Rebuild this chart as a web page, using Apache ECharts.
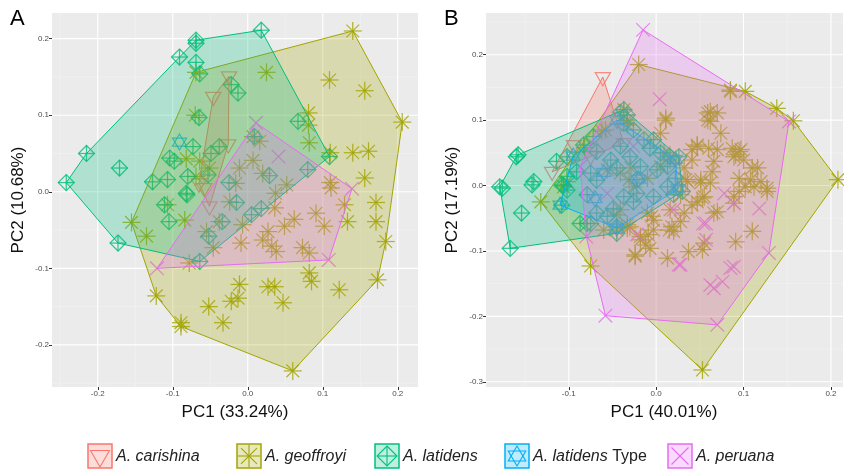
<!DOCTYPE html>
<html><head><meta charset="utf-8">
<script src="https://cdn.jsdelivr.net/npm/echarts@6/dist/echarts.min.js"></script>
<style>html,body{margin:0;padding:0;background:#fff}#c{width:844px;height:470px}</style>
</head><body><div id="c"></div>
<script>
// ---------- DATA ----------
const groupNames = ['A. carishina', 'A. geoffroyi', 'A. latidens', 'A. latidens Type', 'A. peruana'];

// Panel A (PC1 33.24% / PC2 10.68%)
const A_carishina = [[-0.025,0.151],[-0.046,0.124],[-0.026,0.062],[-0.065,0.011],[-0.051,-0.019],[-0.058,0.005]];
const A_geoffroyi = [[0.140,0.210],[0.206,0.091],[0.184,-0.065],[0.173,-0.115],[0.060,-0.234],[-0.089,-0.176],[-0.089,-0.171],[-0.122,-0.136],[-0.155,-0.040],[-0.069,0.156],
 [0.025,0.156],[0.109,0.146],[0.156,0.132],[-0.070,0.100],[0.081,0.103],[0.081,0.087],[0.082,0.064],[0.140,0.051],[0.161,0.053],[0.110,0.051],[0.156,0.018],[0.007,0.072],[0.016,0.066],[0.007,0.041],[-0.011,0.031],[0.020,0.024],[-0.016,0.011],[0.052,0.009],[0.037,-0.002],[0.110,0.012],[0.111,0.005],[-0.082,0.043],[-0.064,0.040],[-0.051,0.031],[-0.069,0.020],
 [0.171,-0.014],[0.171,-0.039],[0.129,-0.017],[0.133,-0.039],[0.091,-0.028],[0.102,-0.045],[0.062,-0.036],[0.049,-0.045],[0.027,-0.052],[0.036,-0.021],[0.020,-0.063],[0.032,-0.071],[0.038,-0.078],[0.073,-0.073],[0.082,-0.080],[-0.009,-0.067],[-0.007,-0.043],[-0.024,-0.013],[-0.038,-0.039],[-0.055,-0.052],[-0.046,-0.073],[-0.078,-0.093],[-0.084,-0.037],[-0.107,-0.017],[-0.135,-0.058],[0.082,-0.106],[0.085,-0.117],[0.122,-0.128],[-0.011,-0.121],[0.027,-0.124],[0.036,-0.124],[-0.022,-0.143],[-0.013,-0.139],[-0.052,-0.150],[0.047,-0.145],[-0.033,-0.171]];
const A_latidens = [[-0.242,0.012],[-0.215,0.050],[-0.069,0.198],[0.018,0.211],[0.109,0.046],[-0.064,-0.091],[-0.173,-0.067],
 [-0.091,0.176],[-0.069,0.169],[-0.064,0.154],[-0.022,0.140],[-0.013,0.129],[-0.065,0.097],[0.067,0.092],[-0.073,0.059],[-0.104,0.044],[-0.098,0.040],[-0.049,0.050],[-0.038,0.059],[-0.080,0.020],[-0.053,0.022],[-0.107,0.016],[-0.127,0.013],[-0.171,0.031],[-0.082,-0.002],[0.009,0.072],[0.029,0.021],[-0.025,0.012],[0.080,0.029],[-0.111,-0.017],[-0.105,-0.039],[-0.015,-0.014],[-0.034,-0.039],[-0.052,-0.058],[0.005,-0.030],[0.018,-0.022],[-0.081,-0.004],[-0.069,0.194]];
const A_latidensType = [[-0.091,0.065]];
const A_peruana = [[0.011,0.090],[0.139,0.004],[0.108,-0.089],[-0.121,-0.100],[0.041,0.046]];

// Panel B (PC1 40.01% / PC2 17.19%)
const B_carishina = [[-0.061,0.166],[-0.037,0.065],[-0.094,0.062],[-0.119,0.021],[-0.075,0.045]];
const B_geoffroyi = [[-0.020,0.185],[0.102,0.144],[0.138,0.118],[0.157,0.099],[0.208,0.009],[0.053,-0.282],[-0.075,-0.123],[-0.132,-0.025],
 [0.085,0.144],[0.011,0.100],[0.005,0.080],[0.059,0.111],[0.070,0.111],[0.062,0.098],[0.074,0.080],[0.047,0.062],[0.041,0.055],[0.060,0.057],[0.070,0.055],[0.087,0.057],[0.095,0.052],[0.091,0.047],[0.066,0.037],[0.064,0.021],[0.041,0.039],[0.100,0.039],[0.110,0.027],[0.095,0.011],[0.108,0.009],[0.051,0.009],[0.062,0.004],[0.009,0.050],[0.016,0.039],[-0.029,0.027],[-0.031,0.009],[-0.010,0.011],[0.034,0.009],[0.032,0.027],[-0.033,0.100],
 [0.051,0.004],[0.055,-0.017],[0.070,-0.040],[0.032,-0.042],[0.041,-0.030],[0.016,-0.037],[-0.005,-0.047],[0.028,-0.055],[0.018,-0.063],[0.015,-0.068],[-0.003,-0.068],[-0.009,-0.075],[-0.018,-0.083],[-0.012,-0.091],[-0.007,-0.096],[-0.024,-0.106],[0.013,-0.111],[0.037,-0.101],[0.055,-0.088],[0.053,-0.098],[0.089,-0.017],[0.102,-0.002],[0.091,-0.086],[0.110,-0.070],[-0.033,-0.065],[-0.030,-0.063],[-0.026,-0.002],
 [-0.033,-0.060],[-0.024,-0.108],[0.066,-0.042],[0.020,-0.070],[-0.045,-0.045],[-0.041,-0.037],[0.047,-0.025],[0.053,-0.019],[0.089,-0.027],[0.028,-0.014],[-0.010,-0.042],[-0.003,-0.053],
 [0.011,0.103],[-0.033,0.093],[-0.058,0.085],[-0.037,0.116],[0.062,0.113],[0.059,0.100],[0.085,0.146],[0.047,0.060],[0.097,0.055],[0.089,0.044],[0.116,0.027],[0.127,-0.004],[0.120,0.006],[-0.041,0.019],[-0.056,0.024],[-0.102,0.006],[-0.106,-0.002],[-0.062,0.083],[-0.082,0.058],[0.036,0.006],[0.005,0.029],[0.112,-0.002],[0.095,-0.009],[0.127,-0.009],[-0.018,-0.078],[-0.045,-0.068],[-0.060,-0.068]];
const B_latidens = [[-0.037,0.116],[0.026,0.044],[0.030,-0.009],[-0.045,-0.073],[-0.167,-0.096],[-0.179,-0.002],[-0.158,0.047],
 [-0.140,0.006],[-0.114,0.037],[-0.102,0.014],[-0.106,0.000],[-0.083,0.062],[-0.072,0.075],[-0.068,0.052],[-0.052,0.039],[-0.075,0.019],[-0.091,0.021],[-0.068,0.008],[-0.045,0.027],[-0.041,0.112],[-0.142,0.001],[-0.108,0.001],[-0.102,-0.007],[-0.079,-0.014],[-0.068,-0.042],[-0.075,-0.058],[-0.056,-0.047],[-0.045,-0.063],[-0.087,-0.058],[-0.033,0.108],[-0.037,0.095],[-0.026,0.085],[-0.014,0.070],[-0.007,0.057],[0.005,0.050],[0.016,0.044],[0.013,0.029],[0.001,0.024],[-0.018,0.029],[-0.022,0.009],[0.022,0.011],[-0.030,0.044],[-0.037,-0.017],[-0.022,-0.012],[0.013,-0.002],[-0.041,0.060],[-0.102,0.044],[-0.003,0.070],[-0.154,-0.042],[-0.108,-0.030],[-0.079,-0.058],[-0.049,-0.035],[-0.026,-0.025],[-0.003,-0.017],[0.020,-0.014],[-0.176,-0.004],[-0.160,0.044]];
const B_latidensType = [[-0.110,-0.030],[-0.095,0.045],[-0.045,0.100],[0.022,0.040],[0.025,-0.005],[-0.045,-0.065],[-0.060,0.020],[-0.020,0.010],[-0.070,-0.020]];
const B_peruana = [[-0.015,0.238],[0.152,0.098],[0.129,-0.103],[0.070,-0.213],[-0.058,-0.199],[-0.080,-0.078],[-0.087,0.029],
 [0.004,0.132],[0.078,-0.012],[0.089,-0.027],[0.057,-0.058],[0.057,-0.083],[0.026,-0.121],[0.085,-0.126],[-0.022,-0.075],[0.020,-0.037],[0.089,-0.124],[0.062,-0.152],[0.076,-0.147],[0.066,-0.157],[0.118,-0.035],[0.054,-0.058],[0.028,-0.121],[-0.026,0.060],[-0.056,-0.012]];

// Axis ticks
const A_xTicks = [-0.2,-0.1,0,0.1,0.2];
const A_xMinor = [-0.25,-0.15,-0.05,0.05,0.15];
const A_yTicks = [-0.2,-0.1,0,0.1,0.2];
const A_yMinor = [-0.25,-0.15,-0.05,0.05,0.15];
const B_xTicks = [-0.1,0,0.1,0.2];
const B_xMinor = [-0.15,-0.05,0.05,0.15];
const B_yTicks = [-0.3,-0.2,-0.1,0,0.1,0.2];
const B_yMinor = [-0.25,-0.15,-0.05,0.05,0.15,0.25];

// ---------- STYLE ----------
const colors = ['#F8766D','#A3A500','#00BF7D','#00B0F6','#E76BF3'];
const shapes = ['triDown','asterisk','diamondPlus','hexagram','cross'];
const FONT = "'Liberation Sans', Arial, sans-serif";

function rgba(hex, a){
  const n = parseInt(hex.slice(1),16);
  return 'rgba(' + ((n>>16)&255) + ',' + ((n>>8)&255) + ',' + (n&255) + ',' + a + ')';
}
function glyph(shape, cx, cy, stroke, k, lw){
  k = k || 1; lw = lw || 1.1;
  const st = {stroke: stroke, lineWidth: lw, fill: 'none'};
  const L = (x1,y1,x2,y2) => ({type:'line', shape:{x1:cx+x1*k,y1:cy+y1*k,x2:cx+x2*k,y2:cy+y2*k}, style:st});
  const P = (pts) => ({type:'polygon', shape:{points: pts.map(p=>[cx+p[0]*k, cy+p[1]*k])}, style:st});
  if (shape==='triDown') return [P([[-7.6,-4.4],[7.6,-4.4],[0,8.8]])];
  if (shape==='asterisk'){ const r=9, d=r*0.7071; return [L(-r,0,r,0),L(0,-r,0,r),L(-d,-d,d,d),L(-d,d,d,-d)]; }
  if (shape==='diamondPlus'){ const r=8; return [P([[0,-r],[r,0],[0,r],[-r,0]]),L(-r,0,r,0),L(0,-r,0,r)]; }
  if (shape==='hexagram') return [P([[0,-8],[7,4],[-7,4]]),P([[0,8],[7,-4],[-7,-4]])];
  if (shape==='cross'){ const h=6.8; return [L(-h,-h,h,h),L(-h,h,h,-h)]; }
  return [];
}
function hull(pts){
  const p = pts.slice().sort((a,b)=>a[0]-b[0]||a[1]-b[1]);
  if (p.length<3) return p;
  const cr=(o,a,b)=>(a[0]-o[0])*(b[1]-o[1])-(a[1]-o[1])*(b[0]-o[0]);
  const lo=[]; for(const q of p){ while(lo.length>=2&&cr(lo[lo.length-2],lo[lo.length-1],q)<=0) lo.pop(); lo.push(q); }
  const up=[]; for(let i=p.length-1;i>=0;i--){ const q=p[i]; while(up.length>=2&&cr(up[up.length-2],up[up.length-1],q)<=0) up.pop(); up.push(q); }
  lo.pop(); up.pop(); return lo.concat(up);
}

const panels = [
  {groups:[A_carishina,A_geoffroyi,A_latidens,A_latidensType,A_peruana], xT:A_xTicks, xM:A_xMinor, yT:A_yTicks, yM:A_yMinor,
   grid:{left:52, top:13, width:366, height:374}, x:[-0.261,0.227], y:[-0.255,0.2335]},
  {groups:[B_carishina,B_geoffroyi,B_latidens,B_latidensType,B_peruana], xT:B_xTicks, xM:B_xMinor, yT:B_yTicks, yM:B_yMinor,
   grid:{left:486, top:13, width:357, height:374}, x:[-0.1947,0.2138], y:[-0.308,0.2638]}
];

const fmt = v => (Math.abs(v)<1e-9 ? '0.0' : v.toFixed(1));
const grids=[], xAxes=[], yAxes=[], series=[];
panels.forEach((P, pi) => {
  grids.push(Object.assign({show:true, backgroundColor:'#EBEBEB', borderWidth:0, containLabel:false}, P.grid));
  const axisCommon = (ticks) => ({
    type:'value', gridIndex:pi, axisLine:{show:false, onZero:false}, splitLine:{show:false},
    axisTick:{show:true, length:3, lineStyle:{color:'#333', width:1}, customValues:ticks},
    axisLabel:{customValues:ticks, formatter:fmt, fontSize:8, color:'#4D4D4D', fontFamily:FONT, margin:3}
  });
  xAxes.push(Object.assign(axisCommon(P.xT), {min:P.x[0], max:P.x[1], position:'bottom'}));
  yAxes.push(Object.assign(axisCommon(P.yT), {min:P.y[0], max:P.y[1], position:'left'}));
  // grid lines
  series.push({type:'custom', xAxisIndex:pi, yAxisIndex:pi, z:1, silent:true, data:[[0,0]],
    renderItem:(params, api) => {
      const cs = params.coordSys, ch=[];
      const vx = (vals, major) => vals.forEach(v => { const x=api.coord([v,0])[0];
        ch.push({type:'line', shape:{x1:x,y1:cs.y,x2:x,y2:cs.y+cs.height}, style:{stroke: major?'#FFFFFF':'#F4F4F4', lineWidth: major?1.1:0.6}}); });
      const vy = (vals, major) => vals.forEach(v => { const y=api.coord([0,v])[1];
        ch.push({type:'line', shape:{x1:cs.x,y1:y,x2:cs.x+cs.width,y2:y}, style:{stroke: major?'#FFFFFF':'#F4F4F4', lineWidth: major?1.1:0.6}}); });
      vx(P.xM,false); vy(P.yM,false); vx(P.xT,true); vy(P.yT,true);
      return {type:'group', children:ch};
    }});
  // points
  P.groups.forEach((pts, gi) => {
    series.push({type:'custom', name:groupNames[gi], xAxisIndex:pi, yAxisIndex:pi, z:2, silent:true, data:pts,
      renderItem:(params, api) => {
        const c = api.coord([api.value(0), api.value(1)]);
        return {type:'group', children: glyph(shapes[gi], c[0], c[1], rgba(colors[gi],0.8), 1, 1.25)};
      }});
  });
  // hulls
  P.groups.forEach((pts, gi) => {
    const h = hull(pts);
    if (h.length < 3) return;
    series.push({type:'custom', xAxisIndex:pi, yAxisIndex:pi, z:3, silent:true, data:h,
      renderItem:(params, api) => {
        if (params.dataIndex !== 0) return null;
        return {type:'polygon', shape:{points: h.map(p => api.coord(p))},
          style:{fill: rgba(colors[gi],0.25), stroke: colors[gi], lineWidth:1}};
      }});
  });
});

// ---------- TEXT & LEGEND ----------
const graphics = [
  {type:'text', x:10, y:8, style:{text:'A', fontSize:22, fontFamily:FONT, fill:'#000'}},
  {type:'text', x:444, y:8, style:{text:'B', fontSize:22, fontFamily:FONT, fill:'#000'}},
  {type:'text', x:235, y:412, style:{text:'PC1 (33.24%)', fontSize:17, fontFamily:FONT, fill:'#111', align:'center', verticalAlign:'middle'}},
  {type:'text', x:664, y:412, style:{text:'PC1 (40.01%)', fontSize:17, fontFamily:FONT, fill:'#111', align:'center', verticalAlign:'middle'}},
  {type:'text', x:18, y:200, rotation:Math.PI/2, style:{text:'PC2 (10.68%)', fontSize:17, fontFamily:FONT, fill:'#111', align:'center', verticalAlign:'middle'}},
  {type:'text', x:452, y:200, rotation:Math.PI/2, style:{text:'PC2 (17.19%)', fontSize:17, fontFamily:FONT, fill:'#111', align:'center', verticalAlign:'middle'}}
];
const keyX = [88, 237, 375, 505, 668];
groupNames.forEach((name, gi) => {
  const kx = keyX[gi], ky = 444, ks = 24;
  graphics.push({type:'rect', shape:{x:kx, y:ky, width:ks, height:ks}, style:{fill: rgba(colors[gi],0.25), stroke: colors[gi], lineWidth:1.5}});
  graphics.push({type:'group', children: glyph(shapes[gi], kx+ks/2, ky+ks/2, colors[gi], 1.25, 1.1)});
  const isType = name.endsWith('Type');
  graphics.push({type:'text', x: kx+ks+4, y: ky+ks/2+1, style:{
    text: isType ? '{i|A. latidens} Type' : '{i|' + name + '}',
    rich:{i:{fontStyle:'italic', fontSize:16, fontFamily:FONT, fill:'#222'}},
    fontSize:16, fontFamily:FONT, fill:'#222', verticalAlign:'middle'}});
});

const chart = echarts.init(document.getElementById('c'), null, {renderer:'canvas'});
chart.setOption({
  animation:false, backgroundColor:'#ffffff',
  grid:grids, xAxis:xAxes, yAxis:yAxes, series:series, graphic:graphics
});
</script></body></html>
